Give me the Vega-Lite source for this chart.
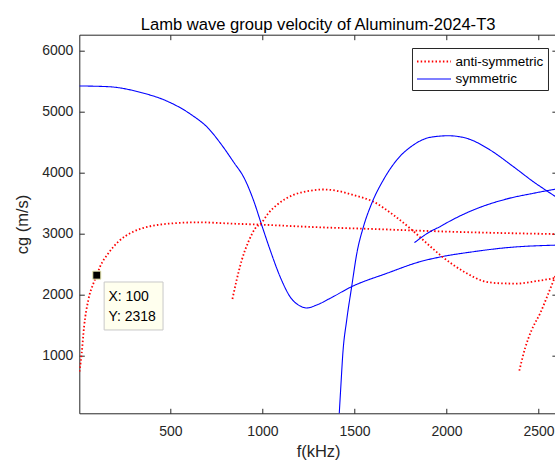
{
  "$schema": "https://vega.github.io/schema/vega-lite/v6.json",
  "width": 477.6,
  "height": 378.6,
  "autosize": {"type": "none"},
  "padding": {"left": 79.3, "top": 34.7, "right": 0, "bottom": 48},
  "background": "white",
  "title": {"text": "Lamb wave group velocity of Aluminum-2024-T3", "fontSize": 16.6, "fontWeight": "normal", "font": "Liberation Sans", "color": "#000000", "anchor": "middle", "offset": 1},
  "config": {
    "view": {"stroke": null},
    "axis": {"labelFont": "Liberation Sans", "titleFont": "Liberation Sans", "labelFontSize": 14, "titleFontSize": 16.5, "titleFontWeight": "normal", "labelColor": "#262626", "titleColor": "#262626", "domainColor": "#262626", "tickColor": "#262626", "domainWidth": 1, "tickWidth": 1, "grid": false, "tickSize": 5}
  },
  "datasets": {
    "curves": [
      {"mode": "A0", "type": "anti-symmetric", "f": 6, "v": 740},
      {"mode": "A0", "type": "anti-symmetric", "f": 18, "v": 1039},
      {"mode": "A0", "type": "anti-symmetric", "f": 31, "v": 1475},
      {"mode": "A0", "type": "anti-symmetric", "f": 54, "v": 1912},
      {"mode": "A0", "type": "anti-symmetric", "f": 82, "v": 2185},
      {"mode": "A0", "type": "anti-symmetric", "f": 100, "v": 2318},
      {"mode": "A0", "type": "anti-symmetric", "f": 118, "v": 2457},
      {"mode": "A0", "type": "anti-symmetric", "f": 163, "v": 2676},
      {"mode": "A0", "type": "anti-symmetric", "f": 217, "v": 2866},
      {"mode": "A0", "type": "anti-symmetric", "f": 299, "v": 3030},
      {"mode": "A0", "type": "anti-symmetric", "f": 380, "v": 3112},
      {"mode": "A0", "type": "anti-symmetric", "f": 489, "v": 3160},
      {"mode": "A0", "type": "anti-symmetric", "f": 652, "v": 3183},
      {"mode": "A0", "type": "anti-symmetric", "f": 848, "v": 3160},
      {"mode": "A0", "type": "anti-symmetric", "f": 996, "v": 3144},
      {"mode": "A0", "type": "anti-symmetric", "f": 1313, "v": 3101},
      {"mode": "A0", "type": "anti-symmetric", "f": 1549, "v": 3079},
      {"mode": "A0", "type": "anti-symmetric", "f": 2010, "v": 3030},
      {"mode": "A0", "type": "anti-symmetric", "f": 2600, "v": 2990},
      {"mode": "S0", "type": "symmetric", "f": 6, "v": 5415},
      {"mode": "S0", "type": "symmetric", "f": 163, "v": 5403},
      {"mode": "S0", "type": "symmetric", "f": 344, "v": 5305},
      {"mode": "S0", "type": "symmetric", "f": 489, "v": 5157},
      {"mode": "S0", "type": "symmetric", "f": 616, "v": 4940},
      {"mode": "S0", "type": "symmetric", "f": 706, "v": 4722},
      {"mode": "S0", "type": "symmetric", "f": 779, "v": 4448},
      {"mode": "S0", "type": "symmetric", "f": 848, "v": 4149},
      {"mode": "S0", "type": "symmetric", "f": 897, "v": 3930},
      {"mode": "S0", "type": "symmetric", "f": 951, "v": 3548},
      {"mode": "S0", "type": "symmetric", "f": 996, "v": 3139},
      {"mode": "S0", "type": "symmetric", "f": 1042, "v": 2730},
      {"mode": "S0", "type": "symmetric", "f": 1096, "v": 2293},
      {"mode": "S0", "type": "symmetric", "f": 1150, "v": 1966},
      {"mode": "S0", "type": "symmetric", "f": 1205, "v": 1813},
      {"mode": "S0", "type": "symmetric", "f": 1241, "v": 1781},
      {"mode": "S0", "type": "symmetric", "f": 1295, "v": 1830},
      {"mode": "S0", "type": "symmetric", "f": 1368, "v": 1939},
      {"mode": "S0", "type": "symmetric", "f": 1485, "v": 2130},
      {"mode": "S0", "type": "symmetric", "f": 1676, "v": 2348},
      {"mode": "S0", "type": "symmetric", "f": 1857, "v": 2539},
      {"mode": "S0", "type": "symmetric", "f": 1965, "v": 2615},
      {"mode": "S0", "type": "symmetric", "f": 2146, "v": 2702},
      {"mode": "S0", "type": "symmetric", "f": 2327, "v": 2768},
      {"mode": "S0", "type": "symmetric", "f": 2600, "v": 2810},
      {"mode": "A1", "type": "anti-symmetric", "f": 837, "v": 1928},
      {"mode": "A1", "type": "anti-symmetric", "f": 860, "v": 2239},
      {"mode": "A1", "type": "anti-symmetric", "f": 888, "v": 2566},
      {"mode": "A1", "type": "anti-symmetric", "f": 924, "v": 2866},
      {"mode": "A1", "type": "anti-symmetric", "f": 960, "v": 3080},
      {"mode": "A1", "type": "anti-symmetric", "f": 996, "v": 3180},
      {"mode": "A1", "type": "anti-symmetric", "f": 1032, "v": 3330},
      {"mode": "A1", "type": "anti-symmetric", "f": 1078, "v": 3466},
      {"mode": "A1", "type": "anti-symmetric", "f": 1168, "v": 3630},
      {"mode": "A1", "type": "anti-symmetric", "f": 1259, "v": 3700},
      {"mode": "A1", "type": "anti-symmetric", "f": 1330, "v": 3720},
      {"mode": "A1", "type": "anti-symmetric", "f": 1404, "v": 3700},
      {"mode": "A1", "type": "anti-symmetric", "f": 1494, "v": 3630},
      {"mode": "A1", "type": "anti-symmetric", "f": 1603, "v": 3520},
      {"mode": "A1", "type": "anti-symmetric", "f": 1712, "v": 3303},
      {"mode": "A1", "type": "anti-symmetric", "f": 1802, "v": 3085},
      {"mode": "A1", "type": "anti-symmetric", "f": 1893, "v": 2840},
      {"mode": "A1", "type": "anti-symmetric", "f": 1965, "v": 2650},
      {"mode": "A1", "type": "anti-symmetric", "f": 2038, "v": 2484},
      {"mode": "A1", "type": "anti-symmetric", "f": 2110, "v": 2348},
      {"mode": "A1", "type": "anti-symmetric", "f": 2200, "v": 2222},
      {"mode": "A1", "type": "anti-symmetric", "f": 2291, "v": 2185},
      {"mode": "A1", "type": "anti-symmetric", "f": 2382, "v": 2180},
      {"mode": "A1", "type": "anti-symmetric", "f": 2491, "v": 2222},
      {"mode": "A1", "type": "anti-symmetric", "f": 2600, "v": 2275},
      {"mode": "S1", "type": "symmetric", "f": 1417, "v": 30},
      {"mode": "S1", "type": "symmetric", "f": 1426, "v": 493},
      {"mode": "S1", "type": "symmetric", "f": 1437, "v": 1039},
      {"mode": "S1", "type": "symmetric", "f": 1458, "v": 1584},
      {"mode": "S1", "type": "symmetric", "f": 1485, "v": 2130},
      {"mode": "S1", "type": "symmetric", "f": 1513, "v": 2676},
      {"mode": "S1", "type": "symmetric", "f": 1549, "v": 3112},
      {"mode": "S1", "type": "symmetric", "f": 1594, "v": 3494},
      {"mode": "S1", "type": "symmetric", "f": 1657, "v": 3876},
      {"mode": "S1", "type": "symmetric", "f": 1730, "v": 4203},
      {"mode": "S1", "type": "symmetric", "f": 1820, "v": 4448},
      {"mode": "S1", "type": "symmetric", "f": 1911, "v": 4574},
      {"mode": "S1", "type": "symmetric", "f": 2010, "v": 4600},
      {"mode": "S1", "type": "symmetric", "f": 2110, "v": 4558},
      {"mode": "S1", "type": "symmetric", "f": 2237, "v": 4367},
      {"mode": "S1", "type": "symmetric", "f": 2364, "v": 4093},
      {"mode": "S1", "type": "symmetric", "f": 2472, "v": 3848},
      {"mode": "S1", "type": "symmetric", "f": 2600, "v": 3590},
      {"mode": "S2", "type": "symmetric", "f": 1826, "v": 2850},
      {"mode": "S2", "type": "symmetric", "f": 1911, "v": 3030},
      {"mode": "S2", "type": "symmetric", "f": 1965, "v": 3112},
      {"mode": "S2", "type": "symmetric", "f": 2020, "v": 3205},
      {"mode": "S2", "type": "symmetric", "f": 2146, "v": 3385},
      {"mode": "S2", "type": "symmetric", "f": 2327, "v": 3565},
      {"mode": "S2", "type": "symmetric", "f": 2472, "v": 3658},
      {"mode": "S2", "type": "symmetric", "f": 2600, "v": 3730},
      {"mode": "A2", "type": "anti-symmetric", "f": 2396, "v": 755},
      {"mode": "A2", "type": "anti-symmetric", "f": 2427, "v": 1121},
      {"mode": "A2", "type": "anti-symmetric", "f": 2463, "v": 1421},
      {"mode": "A2", "type": "anti-symmetric", "f": 2509, "v": 1694},
      {"mode": "A2", "type": "anti-symmetric", "f": 2554, "v": 2021},
      {"mode": "A2", "type": "anti-symmetric", "f": 2590, "v": 2293},
      {"mode": "A2", "type": "anti-symmetric", "f": 2600, "v": 2370}
    ],
    "tipbox": [{"f1": 140, "f2": 460, "v1": 1421, "v2": 2206}],
    "tiptext": [
      {"f": 163, "v": 1966, "label": "X: 100"},
      {"f": 163, "v": 1638, "label": "Y: 2318"}
    ],
    "tippoint": [{"f": 100, "v": 2318}]
  },
  "layer": [
    {
      "data": {"name": "curves"},
      "mark": {"type": "line", "clip": true, "interpolate": "monotone"},
      "encoding": {
        "x": {"field": "f", "type": "quantitative", "scale": {"domain": [5, 2600], "nice": false, "zero": false},
              "axis": {"orient": "bottom", "values": [500, 1000, 1500, 2000, 2500], "format": "d", "title": "f(kHz)", "ticks": false, "tickSize": 0, "labelPadding": 11, "titlePadding": 5}},
        "y": {"field": "v", "type": "quantitative", "scale": {"domain": [57, 6254], "nice": false, "zero": false},
              "axis": {"orient": "left", "values": [1000, 2000, 3000, 4000, 5000, 6000], "format": "d", "title": "cg (m/s)", "ticks": false, "tickSize": 0, "labelPadding": 6.5, "titlePadding": 11}},
        "color": {"field": "type", "type": "nominal", "scale": {"domain": ["anti-symmetric", "symmetric"], "range": ["#FF0000", "#0000FF"]},
                  "legend": {"title": null, "orient": "none", "legendX": 332.7, "legendY": 13.3, "strokeColor": "#262626", "fillColor": "white", "padding": 4, "symbolType": "M-1,0H3", "symbolSize": 289, "symbolStrokeWidth": 1.5, "labelFont": "Liberation Sans", "labelFontSize": 13.5, "labelColor": "#000000", "rowPadding": 1.5, "labelOffset": 20.5, "labelExpr": "datum.label + ' '"}},
        "strokeDash": {"field": "type", "type": "nominal", "scale": {"domain": ["anti-symmetric", "symmetric"], "range": [[1.5, 2.2], [1, 0]]}},
        "strokeWidth": {"field": "type", "type": "nominal", "scale": {"domain": ["anti-symmetric", "symmetric"], "range": [1.8, 1.1]}, "legend": null},
        "detail": {"field": "mode", "type": "nominal"}
      }
    },
    {
      "data": {"name": "curves"},
      "mark": {"type": "line", "strokeOpacity": 0},
      "encoding": {
        "x": {"field": "f", "type": "quantitative", "axis": {"orient": "top", "offset": -378.6, "values": [500, 1000, 1500, 2000, 2500], "labels": false, "domain": false, "title": null}},
        "y": {"field": "v", "type": "quantitative", "axis": {"orient": "right", "offset": -477.6, "values": [1000, 2000, 3000, 4000, 5000, 6000], "labels": false, "domain": false, "title": null}},
        "detail": {"field": "mode", "type": "nominal"}
      }
    },
    {
      "data": {"name": "curves"},
      "mark": {"type": "line", "strokeOpacity": 0},
      "encoding": {
        "x": {"field": "f", "type": "quantitative", "axis": {"orient": "bottom", "offset": -378.6, "values": [500, 1000, 1500, 2000, 2500], "labels": false, "title": null}},
        "y": {"field": "v", "type": "quantitative", "axis": {"orient": "left", "offset": -477.6, "values": [1000, 2000, 3000, 4000, 5000, 6000], "labels": false, "title": null}},
        "detail": {"field": "mode", "type": "nominal"}
      }
    },
    {
      "data": {"name": "tipbox"},
      "mark": {"type": "rect", "fill": "#FFFFEE", "stroke": "#C8C8C8", "strokeWidth": 1},
      "encoding": {
        "x": {"field": "f1", "type": "quantitative", "axis": null},
        "x2": {"field": "f2"},
        "y": {"field": "v1", "type": "quantitative", "axis": null},
        "y2": {"field": "v2"}
      }
    },
    {
      "data": {"name": "tiptext"},
      "mark": {"type": "text", "align": "left", "baseline": "middle", "font": "Liberation Sans", "fontSize": 14, "color": "#000000"},
      "encoding": {
        "x": {"field": "f", "type": "quantitative", "axis": null},
        "y": {"field": "v", "type": "quantitative", "axis": null},
        "text": {"field": "label"}
      }
    },
    {
      "data": {"name": "tippoint"},
      "mark": {"type": "point", "shape": "square", "filled": true, "size": 64, "color": "#000000", "stroke": "#E8E8B0", "strokeWidth": 1, "opacity": 1},
      "encoding": {
        "x": {"field": "f", "type": "quantitative", "axis": null},
        "y": {"field": "v", "type": "quantitative", "axis": null}
      }
    }
  ],
  "resolve": {"axis": {"x": "independent", "y": "independent"}}
}
